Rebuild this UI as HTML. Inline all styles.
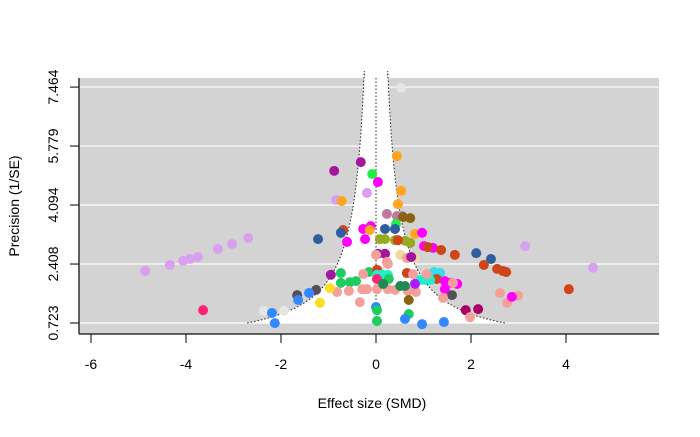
<!DOCTYPE html>
<html><head><meta charset="utf-8"><style>
body{margin:0;background:#fff;}
svg text{font-family:"Liberation Sans",Arial,sans-serif;font-size:14px;fill:#000;}
</style></head><body>
<svg id="chart" width="700" height="432" viewBox="0 0 700 432" xmlns="http://www.w3.org/2000/svg">
<rect x="79" y="78" width="580" height="256" fill="#d3d3d3"/>
<g id="grid"></g>
<path id="funnel" fill="#fff"/>
<g id="lines"></g>
<g id="pts"></g>
<line x1="79" y1="78" x2="79" y2="334" stroke="#333" stroke-width="1.5"/>
<line x1="79" y1="334" x2="659" y2="334" stroke="#333" stroke-width="1.5"/>
<g id="axes"></g>
<text x="372" y="408" text-anchor="middle">Effect size (SMD)</text>
<text transform="translate(19,206) rotate(-90)" text-anchor="middle">Precision (1/SE)</text>
</svg>
<script>
const xTicks=[-6,-4,-2,0,2,4];
const yTicks=[0.723,2.408,4.094,5.779,7.464];
const C={pu:"#a3179c",mg:"#ff00ff",lv:"#d9a0f0",or:"#ffa520",gr:"#22ee44",g2:"#1fcc5f",dg:"#228855",rd:"#d0441a",bl:"#2f5d9e",bb:"#3388ff",ol:"#99aa22",br:"#886611",pk:"#f4a09a",be:"#f0d9a0",cy:"#33ddee",te:"#22eecc",mv:"#c07aa0",ma:"#aa0066",dk:"#555055",ye:"#ffdd22",lg:"#e6e6e6",vi:"#b01aff",pr:"#ff2277"};
const effect=[0.44,-0.32,-0.88,-0.08,0.04,0.53,-0.19,-0.84,-0.72,0.46,0.23,0.44,0.55,0.57,0.72,0.42,-0.69,-0.74,-0.27,-0.11,-0.13,0.19,0.40,0.82,0.97,-2.69,-1.22,-0.61,-0.23,0.08,0.19,0.40,0.61,0.72,0.46,1.01,1.20,1.09,1.37,1.66,2.11,2.42,2.27,2.55,2.67,2.74,3.14,0.04,0.19,0,0.23,0.25,0.51,0.65,0.82,0.74,1.22,1.35,-0.95,-0.74,-0.15,-0.27,0.08,0.02,0.02,0.13,0.25,0.27,0.02,-0.74,-0.55,-0.42,-0.29,-0.19,0.02,0.25,0.40,0.67,0.84,-0.82,-0.57,0.15,0.51,0.61,0.65,0.78,1.28,0.93,1.03,1.14,1.07,1.45,1.45,1.58,1.71,1.62,0.82,1.60,1.41,-1.26,-1.66,-1.41,-1.64,-0.97,-1.18,-0.34,0.69,0,0.02,0.02,0.69,0.61,0.97,1.43,1.89,2.15,1.98,2.61,2.76,2.99,2.86,-2.36,-1.94,-2.19,-2.13,-4.86,-4.34,-4.06,-3.92,-3.75,-3.33,-3.03,-3.64,4.06,4.57,0.53];
const precision=[5.49,5.32,5.07,4.98,4.75,4.50,4.44,4.24,4.21,4.12,3.84,3.78,3.78,3.75,3.72,3.55,3.38,3.30,3.41,3.49,3.38,3.41,3.41,3.27,3.30,3.15,3.12,3.04,3.12,3.12,3.12,3.09,3.07,3.01,3.09,2.92,2.87,2.89,2.81,2.67,2.72,2.55,2.38,2.27,2.21,2.18,2.92,2.70,2.70,2.67,2.47,2.41,2.67,2.58,2.58,2.61,2.18,2.15,2.10,2.15,2.18,2.12,2.21,2.24,2.10,2.10,2.10,1.98,1.98,1.87,1.89,1.92,1.69,1.69,1.69,1.69,1.67,1.64,1.61,1.61,1.64,1.84,1.78,1.78,2.15,2.12,1.98,1.95,1.95,1.95,2.12,1.92,1.69,1.87,1.84,1.87,1.84,1.52,1.44,1.67,1.52,1.58,1.38,1.72,1.30,1.32,1.38,1.18,1.09,0.78,0.98,0.84,0.69,0.75,1.09,1.12,0.89,1.58,1.30,1.50,1.47,1.07,1.07,1.01,0.72,2.21,2.38,2.50,2.55,2.61,2.84,2.98,1.09,1.69,2.30,7.44];
const colors=["or","pu","pu","gr","mg","or","lv","lv","or","or","mv","mv","mv","br","br","gr","rd","bl","mg","mg","or","bl","bl","or","mg","lv","bl","mg","mg","ol","ol","ol","ol","ol","rd","mg","mg","rd","rd","rd","bl","bl","rd","rd","rd","rd","lv","pu","pu","pk","pk","pk","be","pk","be","pu","cy","cy","pu","g2","g2","pk","be","rd","te","te","te","g2","pr","g2","g2","g2","pk","pk","pk","pk","pk","pk","pk","pk","pk","dg","dg","dg","rd","pk","rd","te","te","te","pk","mg","mg","mg","mg","pk","vi","dk","pk","dk","dk","bb","bb","ye","ye","pk","br","bb","g2","g2","g2","bb","bb","bb","ma","ma","pk","pk","pk","pk","mg","lg","lg","bb","bb","lv","lv","lv","lv","lv","lv","lv","pr","rd","lv","lg"];
const NS="http://www.w3.org/2000/svg";
const X=v=>376+v*47.5, Y=v=>323-(v-0.723)*35.0;
function mk(t,a,p){const e=document.createElementNS(NS,t);for(const k in a)e.setAttribute(k,a[k]);p.appendChild(e);return e;}
const grid=document.getElementById('grid'),axes=document.getElementById('axes');
yTicks.forEach(t=>{
 const l=mk('line',{x1:79,x2:659,y1:Y(t),y2:Y(t),stroke:'#fff','stroke-width':1.2},grid);
 
 
 const tk=mk('line',{x1:70,x2:79,y1:Y(t),y2:Y(t),stroke:'#000'},axes);
 
 
 const tx=mk('text',{transform:`translate(58,${Y(t)}) rotate(-90)`,'text-anchor':'middle'},axes);
 tx.textContent=t.toFixed(3);
 
 
});
xTicks.forEach(t=>{
 const tk=mk('line',{x1:X(t),x2:X(t),y1:334,y2:343,stroke:'#000'},axes);
 
 
 const tx=mk('text',{x:X(t),y:369,'text-anchor':'middle'},axes);
 tx.textContent=t;
 
 
});
// funnel
let L=[],R=[];
for(let p=0.723;p<=7.95;p+=0.05){L.push([X(-1.96/p),Y(p)]);R.push([X(1.96/p),Y(p)]);}
let d='M'+L.map(q=>q.join(',')).join(' L')+' L'+X(-1.96/7.95)+','+78+' L'+X(1.96/7.95)+',78 L'+R.slice().reverse().map(q=>q.join(',')).join(' L')+'Z';
document.getElementById('funnel').setAttribute('d',d);
const lines=document.getElementById('lines');
[L,R].forEach(s=>{const pl=mk('polyline',{points:s.map(q=>q.join(',')).join(' ')+' '+s[s.length-1][0]+',78',fill:'none',stroke:'#222','stroke-width':1,'stroke-dasharray':'1.5,2'},lines);
 
 });
const cl=mk('line',{x1:X(0),x2:X(0),y1:78,y2:Y(0.723),stroke:'#222','stroke-dasharray':'1.5,2'},lines);


const pts=document.getElementById('pts');
effect.forEach((e,i)=>{
 const c=mk('circle',{cx:X(e),cy:Y(precision[i]),r:5,fill:C[colors[i]]},pts);
 
 
});
</script>
</body></html>
